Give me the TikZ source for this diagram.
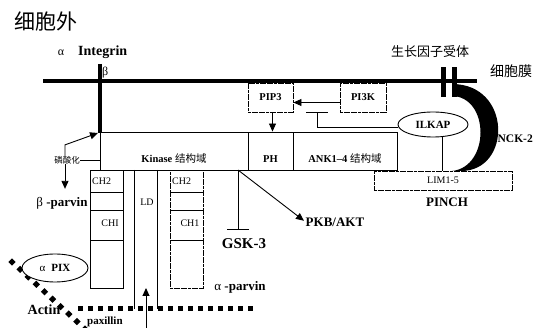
\documentclass[tikz,border=0pt]{standalone}
\usepackage{fontspec}
\setmainfont{Liberation Serif}
\newfontfamily\cjk{Noto Sans CJK SC}
\usetikzlibrary{arrows.meta,shapes.geometric,calc}
\begin{document}
\begin{tikzpicture}[x=1pt,y=-1pt,
  boxx/.style={draw,line width=0.9pt,inner sep=0pt,rectangle},
  dbox/.style={dash pattern=on 3pt off 0.6pt},
  bl/.style={inner sep=0pt,font=\fontsize{13}{15}\selectfont\bfseries},
  sm/.style={inner sep=0pt,font=\fontsize{10}{12}\selectfont},
  cj/.style={inner sep=0pt,font=\cjk\fontsize{#1}{#1}\selectfont},
  arr/.style={line width=0.9pt,-{Triangle[length=8pt,width=7pt]}},
  inh/.style={line width=0.9pt,-{Bar[width=22pt,line width=1.3pt]}},
  dia/.style={diamond,fill=black,inner sep=0pt,minimum size=7.5pt}]
\useasboundingbox (0,0) rectangle (533,328);

% titles
\node[cj=21] (wai) at (46,22) {细胞外};
\node[cj=14] (mo) at (511,71) {细胞膜};
\node[cj=13] (rec) at (430,52) {生长因子受体};
\node[inner sep=0pt,font=\fontsize{12}{13}\selectfont] (alpha) at (61,53) {α};
\node[bl,anchor=west,font=\fontsize{14}{16}\selectfont\bfseries] (integrin) at (78,52) {Integrin};
\node[inner sep=0pt,anchor=west,font=\fontsize{12}{13}\selectfont] (beta) at (102,73) {β};

% membrane and integrin
\coordinate (memL) at (43,81);
\coordinate (memR) at (477,81);
\draw[line width=3.8pt] (memL) -- (memR);
\coordinate (intTop) at (100,64);
\coordinate (intBot) at (100,133);
\draw[line width=4pt] (intTop) -- (intBot);

% receptor bars and NCK-2
\node[fill=black,inner sep=0pt,minimum width=5pt,minimum height=30pt] (rec1) at (443,82) {};
\node[fill=black,inner sep=0pt,minimum width=5pt,minimum height=30pt] (rec2) at (454.5,82) {};
\fill (452,84) .. controls (512,84) and (512,171) .. (461,171) -- (452,171)
  .. controls (490,167) and (490,97) .. (452,96) -- cycle;
\node[bl,anchor=east,font=\fontsize{11.5}{13}\selectfont\bfseries] (nck) at (533,139) {NCK-2};

% ILK boxes
\node[boxx,minimum width=148pt,minimum height=38pt] (kin) at (174,151) {};
\node[boxx,minimum width=45pt,minimum height=38pt] (ph) at (270.5,151) {};
\node[boxx,minimum width=104pt,minimum height=38pt] (ank) at (345,151) {};
\node[inner sep=0pt,font=\fontsize{10.5}{12}\selectfont] (kint) at (174,159) {\textbf{Kinase} {\cjk 结构域}};
\node[inner sep=0pt,font=\fontsize{10.5}{12}\selectfont\bfseries] (pht) at (270.5,159) {PH};
\node[inner sep=0pt,font=\fontsize{10.5}{12}\selectfont] (ankt) at (345,159) {\textbf{ANK1–4} {\cjk 结构域}};

% PIP3 / PI3K
\node[boxx,dbox,minimum width=45pt,minimum height=29pt,font=\fontsize{10.5}{12}\selectfont\bfseries] (pip3) at (270.5,97.5) {PIP3};
\node[boxx,dbox,minimum width=46pt,minimum height=29pt,font=\fontsize{10.5}{12}\selectfont\bfseries] (pi3k) at (363,97.5) {PI3K};
\draw[arr] ([yshift=-5pt]pi3k.west) -- ([yshift=-5pt]pip3.east);
\draw[arr] ([xshift=2pt]pip3.south) -- ([xshift=2pt]ph.north);

% ILKAP, LIM, PINCH
\node[draw,ellipse,line width=0.9pt,fill=white,inner sep=0pt,minimum width=70pt,minimum height=25pt,font=\fontsize{11}{12}\selectfont\bfseries] (ilkap) at (433,124.5) {ILKAP};
\node[boxx,dbox,fill=white,minimum width=138pt,minimum height=19pt,font=\fontsize{10}{12}\selectfont] (lim) at (443,180.5) {LIM1-5};
\node[bl] (pinch) at (447,202) {PINCH};
\draw[line width=0.9pt] ([xshift=9pt]ilkap.south) -- ([xshift=9pt]ilkap.south |- lim.north);
\coordinate (inhEnd) at (317,112);
\draw[inh] ([yshift=-3pt]ilkap.west) -| (inhEnd);

% beta-parvin column
\node[boxx,minimum width=33pt,minimum height=22pt] (bc2) at (106.5,181) {};
\node[boxx,minimum width=33pt,minimum height=18pt] (bcm) at (106.5,201) {};
\node[boxx,minimum width=33pt,minimum height=30pt] (bc1) at (106.5,225) {};
\node[boxx,minimum width=33pt,minimum height=48pt] (bcb) at (106.5,264) {};
\node[sm,anchor=west] (bc2t) at (92,181) {CH2};
\node[sm] (bc1t) at (110,223) {CHI};

% alpha-parvin column
\node[boxx,dbox,minimum width=33pt,minimum height=22pt] (ac2) at (186.5,181) {};
\node[boxx,dbox,minimum width=33pt,minimum height=18pt] (acm) at (186.5,201) {};
\node[boxx,dbox,minimum width=33pt,minimum height=30pt] (ac1) at (186.5,225) {};
\node[boxx,dbox,minimum width=33pt,minimum height=48pt] (acb) at (186.5,264) {};
\node[sm,anchor=west] (ac2t) at (172,181) {CH2};
\node[sm] (ac1t) at (190,223) {CH1};

% LD
\coordinate (ld1t) at (134,170); \coordinate (ld1b) at (134,309);
\coordinate (ld2t) at (157,170); \coordinate (ld2b) at (157,309);
\draw[line width=0.9pt] (ld1t) -- (ld1b);
\draw[line width=0.9pt] (ld2t) -- (ld2b);
\node[sm] (ld) at (147,202) {LD};

% actin
\coordinate (actL) at (78,309);
\coordinate (actR) at (253,309);
\draw[line width=5pt,dash pattern=on 5pt off 5pt] (actL) -- (actR);
\coordinate (upTail) at (146,328);
\coordinate (upTip) at (146,288);
\draw[arr] (upTail) -- (upTip);

% paxillin diagonal
\coordinate (dgA) at (12,262);
\coordinate (dgB) at (85,329);
\foreach \i in {0,...,9} \node[dia] (dg\i) at ($(dgA)!\i/9!(dgB)$) {};
\node[draw,ellipse,line width=0.9pt,fill=white,inner sep=0pt,minimum width=66pt,minimum height=28pt,font=\fontsize{11}{12}\selectfont] (pix) at (55,268) {α\hspace{6pt}\textbf{PIX}};
\node[bl,font=\fontsize{14}{16}\selectfont\bfseries] (actin) at (44,310) {Actin};
\node[bl,anchor=north west,font=\fontsize{11}{13}\selectfont\bfseries] (pax) at (87,317) {paxillin};

% labels
\node[inner sep=0pt,font=\fontsize{13}{15}\selectfont] (bparv) at (62,203) {β \textbf{-parvin}};
\node[inner sep=0pt,font=\fontsize{13}{15}\selectfont] (aparv) at (240,287) {α \textbf{-parvin}};

% phosphorylation
\node[cj=8.5] (phos) at (67,160) {磷酸化};
\coordinate (intArr) at (98,133);
\draw[line width=0.9pt] (kin.west |- phos) -- (phos.east);
\draw[arr] ([xshift=-2pt]phos.north) -- ++(0,-11) -- (intArr);
\draw[arr,shorten >=8pt] ([xshift=-2pt]phos.south) -- ([xshift=-2pt]phos.south |- bparv.north);

% GSK-3 and PKB
\coordinate (br) at (238,170);
\coordinate (gskEnd) at (238,230);
\draw[inh] (br) -- (gskEnd);
\node[bl,font=\fontsize{15}{17}\selectfont\bfseries] (gsk) at (244,244) {GSK-3};
\node[bl] (pkb) at (335,222) {PKB/AKT};
\draw[arr,shorten >=2pt] (br) -- (pkb.west);
\end{tikzpicture}
\end{document}
